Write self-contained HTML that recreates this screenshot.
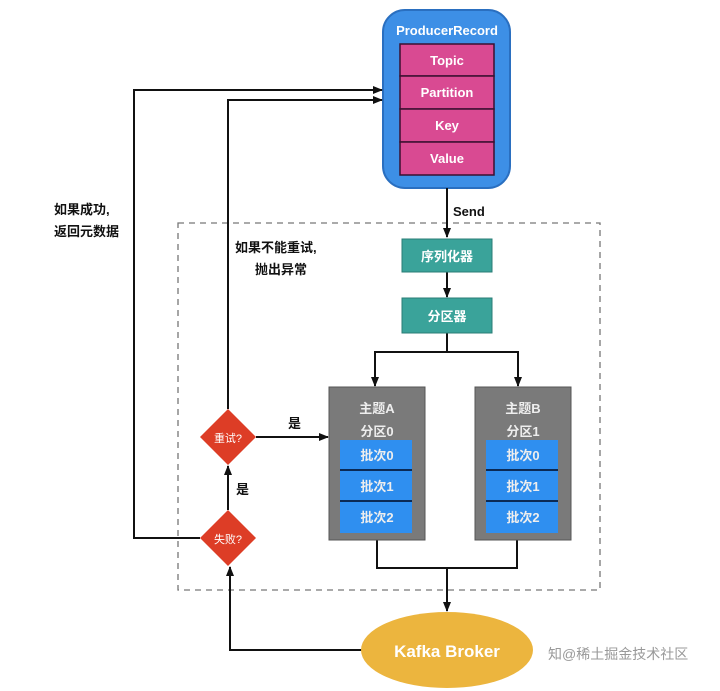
<!DOCTYPE html>
<html><head><meta charset="utf-8"><style>
html,body{margin:0;padding:0;background:#fff;width:720px;height:691px;overflow:hidden}
</style></head><body>
<svg width="720" height="691" viewBox="0 0 720 691" xmlns="http://www.w3.org/2000/svg" font-family="Liberation Sans, Noto Sans CJK SC, sans-serif" font-weight="bold">
<defs><marker id="a" markerWidth="10" markerHeight="10" refX="9" refY="5" orient="auto" markerUnits="userSpaceOnUse"><path d="M0,1 L10,5 L0,9 z" fill="#111"/></marker></defs>
<rect x="178" y="223" width="422" height="367" fill="none" stroke="#777" stroke-width="1.3" stroke-dasharray="6,5"/>
<rect x="383" y="10" width="127" height="178" rx="22" fill="#3d8fe6" stroke="#2a6fc0" stroke-width="2"/>
<text x="447" y="35" fill="#fff" font-size="13" text-anchor="middle">ProducerRecord</text>
<g fill="#d94a92" stroke="#3a1030" stroke-width="1.5">
<rect x="400" y="44" width="94" height="32"/><rect x="400" y="76" width="94" height="33"/><rect x="400" y="109" width="94" height="33"/><rect x="400" y="142" width="94" height="33"/></g>
<g fill="#fff" font-size="13" text-anchor="middle"><text x="447" y="65">Topic</text><text x="447" y="97">Partition</text><text x="447" y="130">Key</text><text x="447" y="163">Value</text></g>
<g stroke="#111" stroke-width="2" fill="none">
<line x1="447" y1="188" x2="447" y2="237" marker-end="url(#a)"/>
<line x1="447" y1="272" x2="447" y2="297" marker-end="url(#a)"/>
<polyline points="447,333 447,352"/>
<polyline points="375,386 375,352 518,352 518,386"/>
<line x1="375" y1="370" x2="375" y2="386" marker-end="url(#a)"/>
<line x1="518" y1="370" x2="518" y2="386" marker-end="url(#a)"/>
<polyline points="377,540 377,568 517,568 517,540"/>
<line x1="447" y1="568" x2="447" y2="611" marker-end="url(#a)"/>
<line x1="256" y1="437" x2="328" y2="437" marker-end="url(#a)"/>
<line x1="228" y1="510" x2="228" y2="466" marker-end="url(#a)"/>
<polyline points="228,409 228,100 382,100" marker-end="url(#a)"/>
<polyline points="200,538 134,538 134,90 382,90" marker-end="url(#a)"/>
<polyline points="362,650 230,650 230,567" marker-end="url(#a)"/>
</g>
<text x="453" y="216" font-size="13" fill="#111">Send</text>
<rect x="402" y="239" width="90" height="33" fill="#3aa39a" stroke="#2a7d76"/>
<text x="447" y="261" fill="#fff" font-size="13" text-anchor="middle">序列化器</text>
<rect x="402" y="298" width="90" height="35" fill="#3aa39a" stroke="#2a7d76"/>
<text x="447" y="321" fill="#fff" font-size="13" text-anchor="middle">分区器</text>
<g>
<rect x="329" y="387" width="96" height="153" fill="#7a7a7a" stroke="#555"/>
<rect x="475" y="387" width="96" height="153" fill="#7a7a7a" stroke="#555"/>
<rect x="340" y="440" width="72" height="93" fill="#2f8ff0"/>
<rect x="486" y="440" width="72" height="93" fill="#2f8ff0"/>
<g stroke="#0b2a55" stroke-width="2"><line x1="340" y1="470" x2="412" y2="470"/><line x1="340" y1="501" x2="412" y2="501"/><line x1="486" y1="470" x2="558" y2="470"/><line x1="486" y1="501" x2="558" y2="501"/></g>
<g fill="#eee" font-size="13" text-anchor="middle">
<text x="377" y="413">主题A</text><text x="377" y="436">分区0</text>
<text x="523" y="413">主题B</text><text x="523" y="436">分区1</text>
<text x="377" y="460">批次0</text><text x="377" y="491">批次1</text><text x="377" y="522">批次2</text>
<text x="523" y="460">批次0</text><text x="523" y="491">批次1</text><text x="523" y="522">批次2</text></g>
</g>
<polygon points="228,409 256,437 228,465 200,437" fill="#dd3d26"/>
<polygon points="228,510 256,538 228,566 200,538" fill="#dd3d26"/>
<text x="228" y="442" fill="#fff" font-size="11" text-anchor="middle" font-weight="normal">重试?</text>
<text x="228" y="543" fill="#fff" font-size="11" text-anchor="middle" font-weight="normal">失败?</text>
<text x="288" y="428" font-size="13" fill="#111">是</text>
<text x="236" y="494" font-size="13" fill="#111">是</text>
<text x="54" y="214" font-size="13" fill="#111">如果成功,</text>
<text x="54" y="236" font-size="13" fill="#111">返回元数据</text>
<text x="235" y="252" font-size="13" fill="#111">如果不能重试,</text>
<text x="255" y="274" font-size="13" fill="#111">抛出异常</text>
<ellipse cx="447" cy="650" rx="86" ry="38" fill="#ecb53e"/>
<text x="447" y="657" fill="#fff" font-size="17" text-anchor="middle">Kafka Broker</text>
<text x="548" y="659" fill="#999" font-size="14" font-weight="normal">知@稀土掘金技术社区</text>
</svg>
</body></html>
